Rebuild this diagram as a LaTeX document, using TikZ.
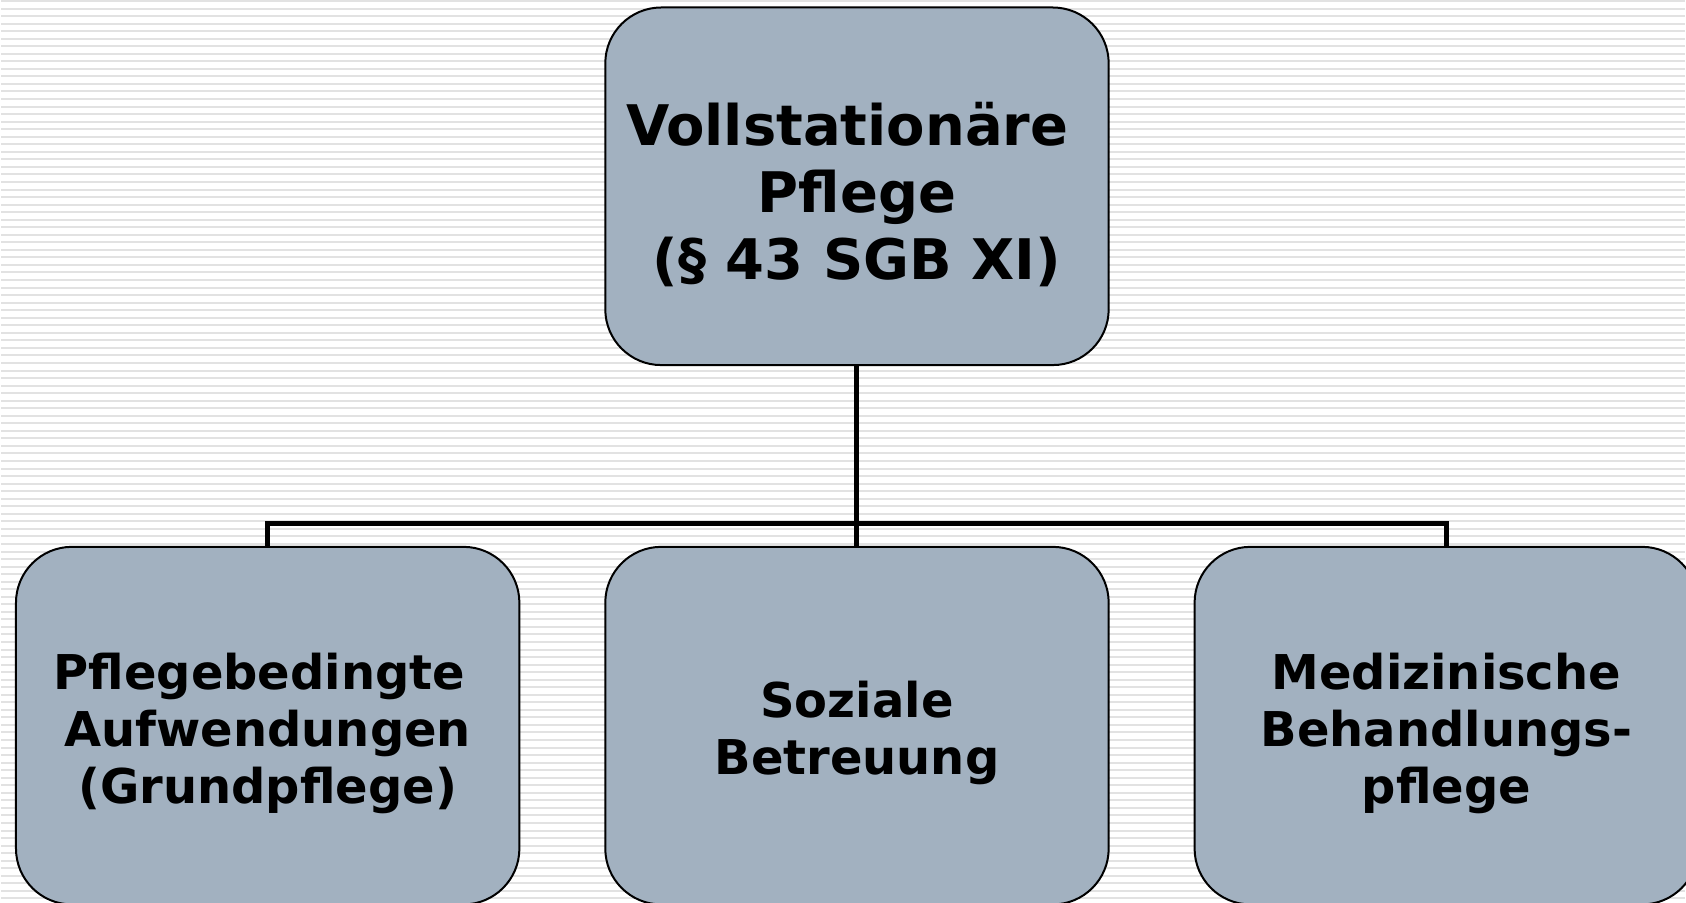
\documentclass[tikz,border=0pt]{standalone}
\usepackage{fontspec}
\setmainfont{DejaVu Sans}
\usetikzlibrary{positioning}
\definecolor{boxgray}{RGB}{162,177,192}
\definecolor{stripegray}{RGB}{226,226,226}
\newcommand{\toppad}[1]{\rule{0pt}{#1}}
\tikzset{
	pflegebox/.style={draw,line width=2pt,fill=boxgray,rounded corners=56pt,
		minimum width=504pt,minimum height=358pt,inner sep=0pt,align=center,
		font=\bfseries\fontsize{48}{57}\selectfont},
	bigtext/.style={font=\bfseries\fontsize{56}{67}\selectfont},
	conn/.style={line width=5pt},
}
\begin{document}
\begin{tikzpicture}[x=1pt,y=-1pt,node distance=84pt]
	%BACKGROUND
	\fill[white] (0,0) rectangle (1686,904);
	\foreach \s in {0,...,119}
		\draw[stripegray,line width=2pt] (0,1+7.55*\s) -- (1686,1+7.55*\s);
	\useasboundingbox (0,0) rectangle (1686,904);
	%NODES
	\node[pflegebox](pg) at (267,726.5){\toppad{52pt}Pflegebedingte\hspace*{0.35em}\\Aufwendungen\\(Grundpflege)};
	\node[pflegebox](sb)[right=of pg]{\toppad{52pt}Soziale\\Betreuung};
	\node[pflegebox](mb)[right=of sb]{\toppad{52pt}Medizinische\\Behandlungs-\\pflege};
	\node[pflegebox,bigtext](vp)[above=180pt of sb]{\toppad{60pt}Vollstationäre\hspace*{0.35em}\\Pflege\\(§ 43 SGB XI)};
	%PATHS
	\coordinate (bus) at (0,524);
	\draw[conn] (vp.south) -- (sb.north);
	\draw[conn] (pg.north) -- (pg.north |- bus) -- (mb.north |- bus) -- (mb.north);
\end{tikzpicture}
\end{document}
